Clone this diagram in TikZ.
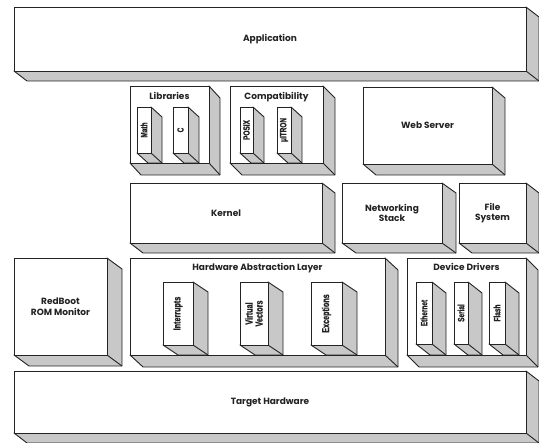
\documentclass[tikz,border=0pt]{standalone}
\usepackage{fontspec}
\setmainfont{Poppins}
\newfontfamily\condensed[FakeStretch=0.72, FakeBold=1.2]{Liberation Sans}
\definecolor{shade}{RGB}{200,200,200}
\definecolor{edge}{RGB}{35,35,35}
\tikzset{
  faceedge/.style={draw=edge, line width=0.9pt, line join=round},
  sideface/.style={faceedge, fill=shade},
  frontface/.style={faceedge, fill=white, inner sep=0pt, outer sep=0pt, anchor=north west},
  title/.style={font=\bfseries\fontsize{9}{10.5}\selectfont, align=center, text=edge, inner sep=0pt},
  tag/.style={font=\condensed\bfseries\fontsize{9}{9}\selectfont, rotate=90, align=center, text=edge, inner sep=0pt},
  bigtag/.style={tag, font=\condensed\bfseries\fontsize{10}{10}\selectfont},
}
% a solid block: name, left, top, right, bottom, depth x, depth y
\newcommand\block[7]{%
  \draw[sideface] (#4,#3) -- ++(#6,#7) -- ({#4+#6},{#5+#7}) -- ({#2+#6},{#5+#7}) -- (#2,#5) -- (#4,#5) -- cycle;
  \draw[faceedge] (#4,#5) -- ++(#6,#7);
  \node[frontface, minimum width={(#4-#2)*1pt}, minimum height={(#5-#3)*1pt}] (#1) at (#2,#3) {};
}
\begin{document}
\begin{tikzpicture}[x=1pt, y=-1pt]
\useasboundingbox (0,0) rectangle (539,443);

% top layer
\block{app}{14}{7}{526}{71}{13}{10}
\node[title] (appL) at (app.center) {Application};

% libraries and compatibility
\block{lib}{130}{86}{209}{163}{11}{12}
\node[title, anchor=north] (libL) at ([yshift=-6pt]lib.north) {Libraries};
\block{math}{137}{107}{151}{153}{11}{10}
\node[tag] (mathL) at (math.center) {Math};
\block{clib}{173}{107}{188}{153}{11}{10}
\node[tag] (clibL) at (clib.center) {C};

\block{compat}{230}{86}{323}{163}{12}{12}
\node[title, anchor=north] (compatL) at ([yshift=-6pt]compat.north) {Compatibility};
\block{posix}{240}{107}{253}{153}{11}{10}
\node[tag] (posixL) at (posix.center) {POSIX};
\block{itron}{277}{107}{291}{153}{11}{10}
\node[tag] (itronL) at (itron.center) {μITRON};

\block{web}{363}{87}{492}{164}{13}{11}
\node[title] (webL) at (web.center) {Web Server};

% kernel row
\block{kernel}{130}{183}{322}{243}{13}{10}
\node[title] (kernelL) at (kernel.center) {Kernel};
\block{net}{342}{183}{442}{243}{14}{10}
\node[title] (netL) at (net.center) {Networking\\Stack};
\block{fs}{459}{183}{526}{243}{13}{10}
\node[title] (fsL) at (fs.center) {File\\System};

% hardware-facing row
\block{redboot}{14}{258}{107}{355}{15}{11}
\node[title] (redbootL) at (redboot.center) {RedBoot\\ROM Monitor};

\block{hal}{130}{258}{385}{355}{13}{12}
\node[title, anchor=north] (halL) at ([yshift=-5pt]hal.north) {Hardware Abstraction Layer};
\block{intr}{163}{282}{193}{345}{15}{10}
\node[bigtag] (intrL) at (intr.center) {Interrupts};
\block{virt}{240}{282}{268}{345}{15}{10}
\node[bigtag] (virtL) at (virt.center) {Virtual\\Vectors};
\block{exc}{311}{282}{342}{345}{15}{10}
\node[bigtag] (excL) at (exc.center) {Exceptions};

\block{dd}{407}{258}{526}{355}{12}{12}
\node[title, anchor=north] (ddL) at ([yshift=-5pt]dd.north) {Device Drivers};
\block{eth}{416}{282}{432}{344}{14}{11}
\node[tag] (ethL) at (eth.center) {Ethernet};
\block{ser}{454}{282}{468}{344}{14}{11}
\node[tag] (serL) at (ser.center) {Serial};
\block{flash}{489}{282}{505}{344}{14}{11}
\node[tag] (flashL) at (flash.center) {Flash};

% base layer
\block{target}{14}{371}{526}{433}{13}{10}
\node[title] (targetL) at (target.center) {Target Hardware};
\end{tikzpicture}
\end{document}
